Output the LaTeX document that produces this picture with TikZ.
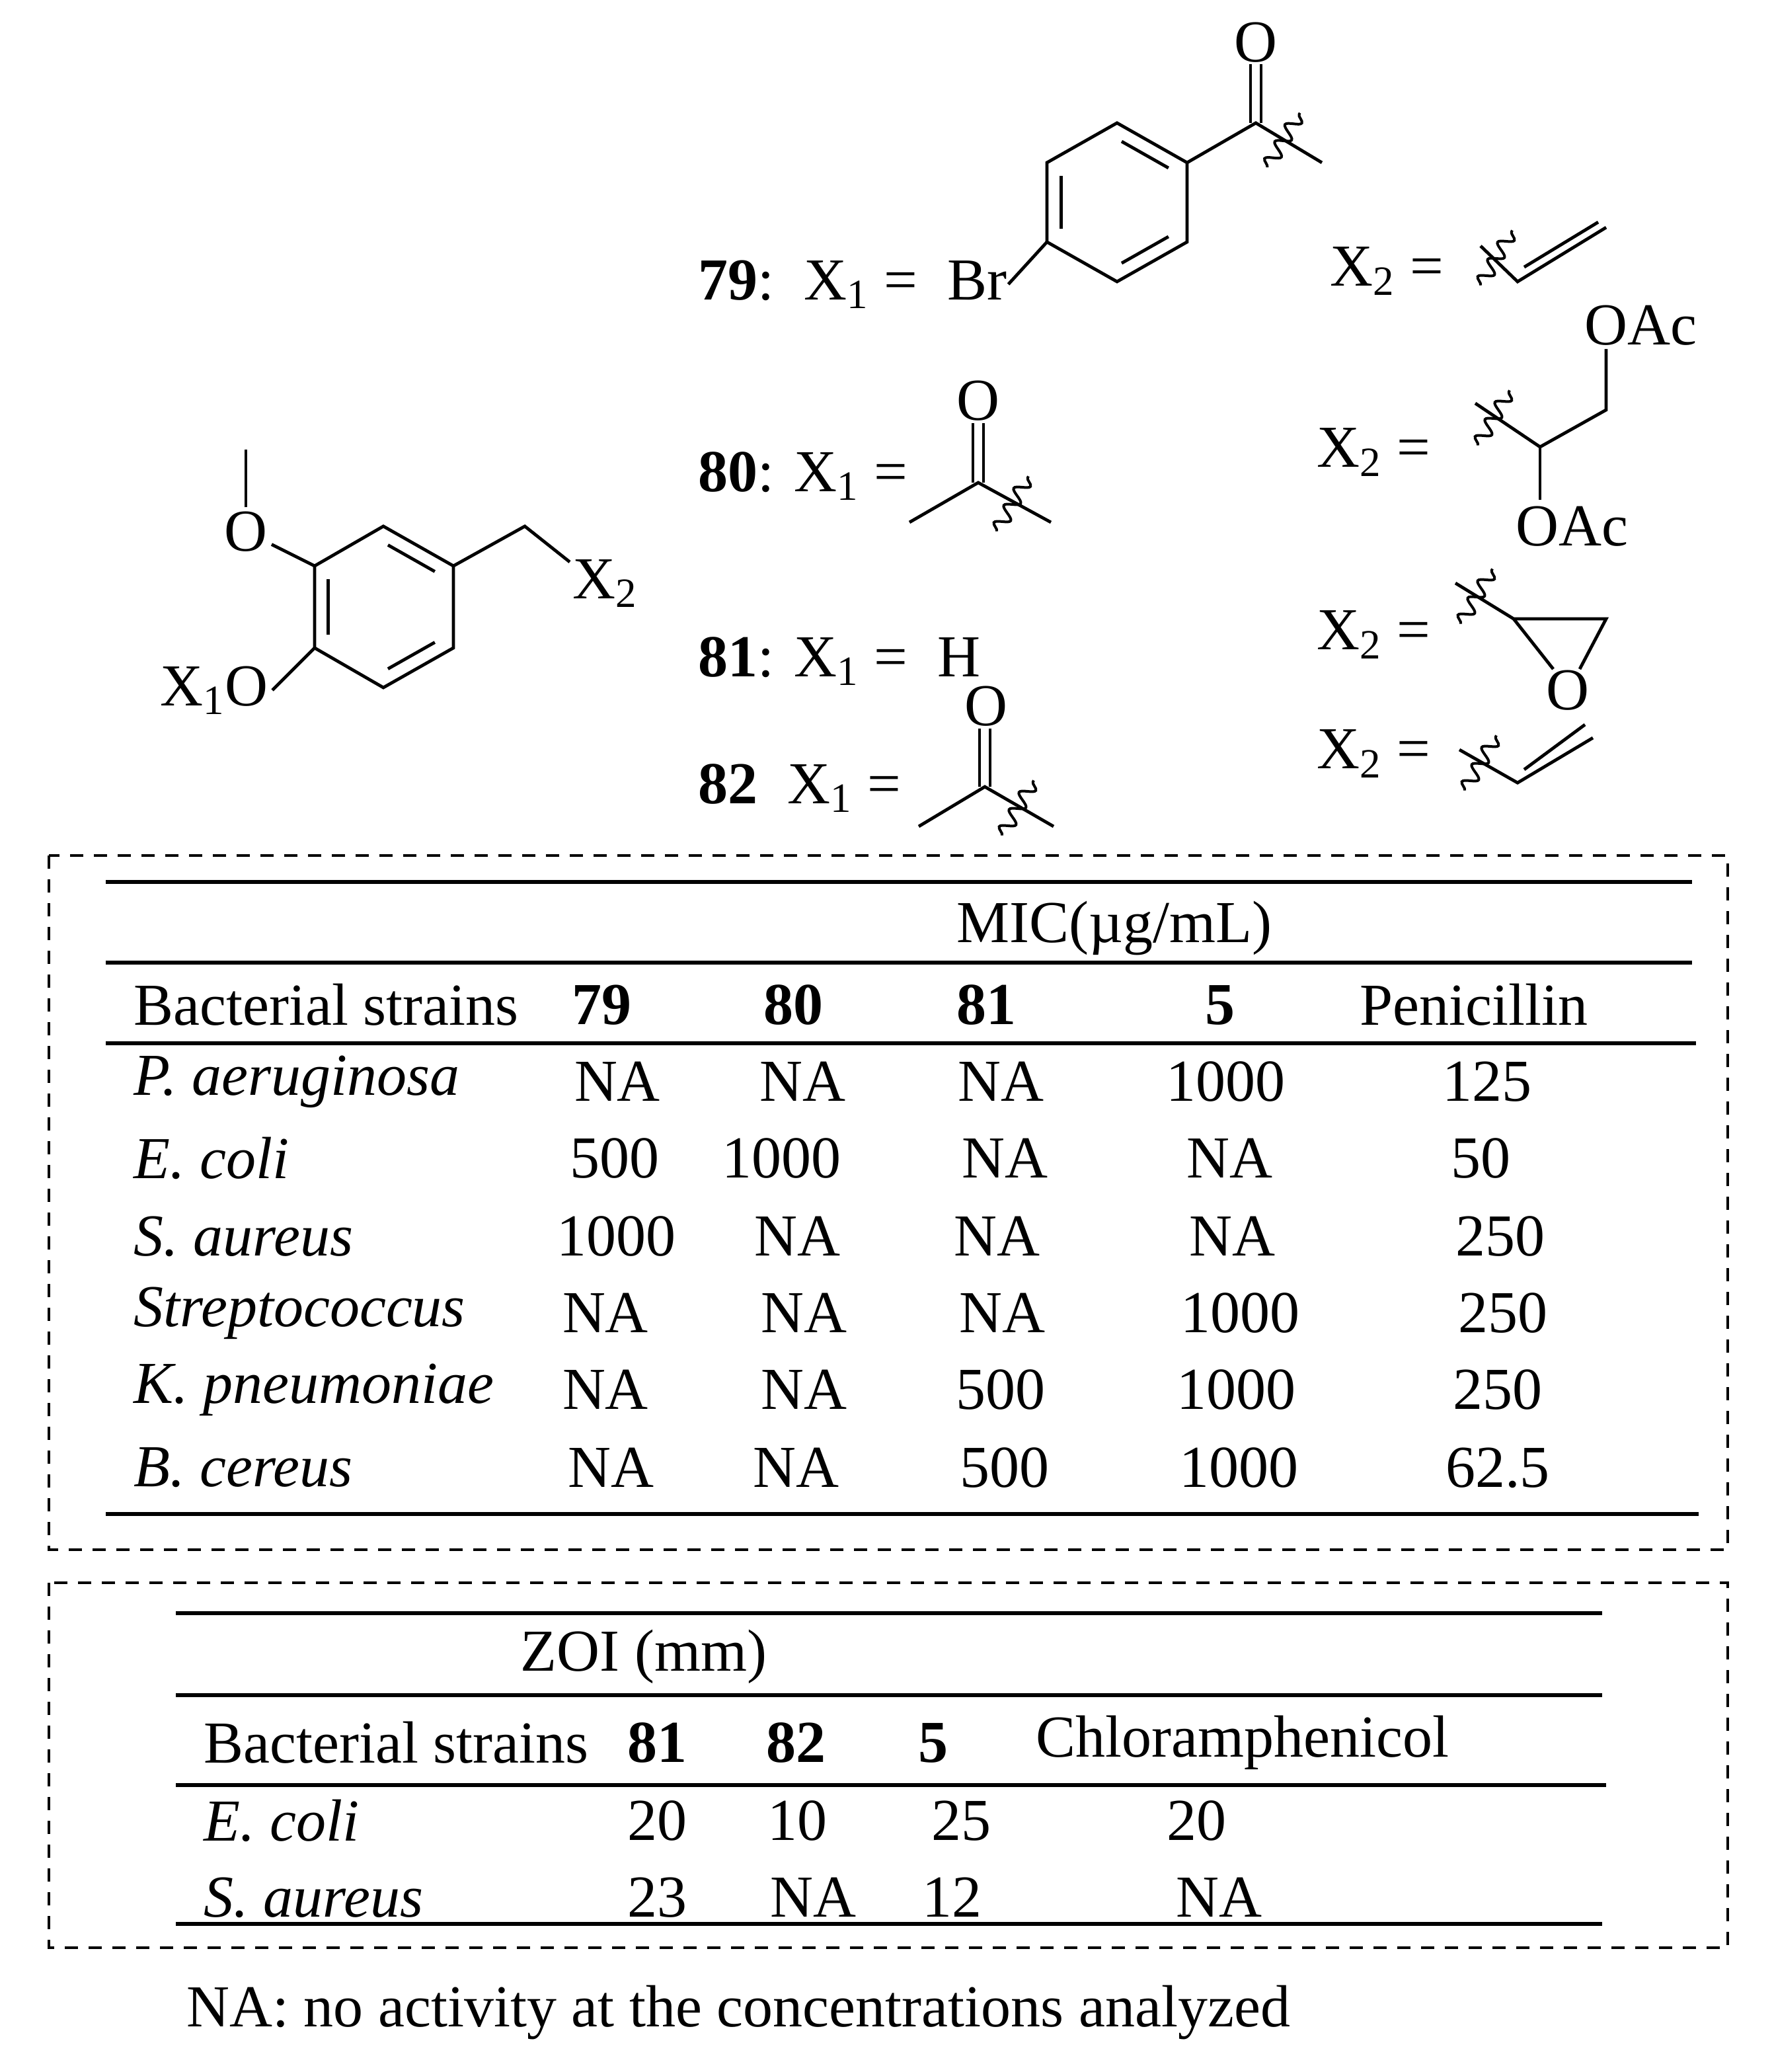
\documentclass[tikz,border=0pt]{standalone}
\usepackage{fontspec}
\setmainfont{Liberation Serif}
\usetikzlibrary{calc,decorations.pathmorphing}
\begin{document}
\begin{tikzpicture}[x=0.5pt,y=-0.5pt,line width=1.2pt,
  txt/.style={font=\fontsize{22.5}{26}\selectfont,inner sep=0pt},
  lt/.style={txt,anchor=west},
  rule/.style={line width=1.3pt},
  box/.style={dashed,line width=1.1pt,dash pattern=on 5pt off 4pt},
  wavy/.pic={\draw[line width=1pt,decorate,decoration={snake,amplitude=2.6pt,segment length=7.5pt}] (-12pt,0)--(12pt,0);}]
\useasboundingbox (0,0) rectangle (1342,1567);
\newcommand\inner[3]{\draw[shorten >=2pt,shorten <=2pt] ($(#1)!0.2!(#3)$) -- ($(#2)!0.2!(#3)$);}
% main ring
\coordinate (m1) at (290,398); \coordinate (m2) at (343,428); \coordinate (m3) at (343,490);
\coordinate (m4) at (290,520); \coordinate (m5) at (238,490); \coordinate (m6) at (238,428);
\coordinate (mc) at (290,459);
\draw (m1)--(m2)--(m3)--(m4)--(m5)--(m6)--cycle;
\inner{m1}{m2}{mc}\inner{m3}{m4}{mc}\inner{m5}{m6}{mc}
\node[txt,inner sep=1pt] (o1) at (186,402) {O};
\draw (m6)--(o1);
\draw (o1)--(186,340);
\node[txt,anchor=east,inner sep=1pt] (x1o) at (206,522) {X\textsubscript{1}O};
\draw (m5)--(x1o.east);
\draw (m2)--(397,398)--(431,425);
\node[txt,anchor=north west] (x2) at (432,422) {X\textsubscript{2}};
% 79
\node[lt] (l79) at (527,215) {\textbf{79}:\ \ X\textsubscript{1} = \ Br};
\coordinate (b1) at (845,93); \coordinate (b2) at (898,123); \coordinate (b3) at (898,183);
\coordinate (b4) at (845,213); \coordinate (b5) at (792,183); \coordinate (b6) at (792,123);
\coordinate (bc) at (845,153);
\draw (b1)--(b2)--(b3)--(b4)--(b5)--(b6)--cycle;
\inner{b1}{b2}{bc}\inner{b3}{b4}{bc}\inner{b5}{b6}{bc}
\draw (b5)--(l79.east);
\node[txt] (o79) at (950,32) {O};
\draw (b2)--(950,93)--(1000,123);
\draw (946,93)--(o79.south-|946,0); \draw (954,93)--(o79.south-|954,0);
\pic[rotate=59] at (971,106) {wavy};
% X2 vinyl 1
\node[lt] (x2a) at (1005,205) {X\textsubscript{2} =};
\pic[rotate=60] at (1132,195) {wavy};
\draw (1120,186)--(1148,213)--(1215,172);
\draw (1153,202)--(1209,168);
% 80
\node[lt] (l80) at (527,360) {\textbf{80}: X\textsubscript{1} =};
\node[txt] (o80) at (740,303) {O};
\draw (688,395)--(740,365)--(795,395);
\draw (736,365)--(736,320); \draw (744,365)--(744,320);
\pic[rotate=60] at (766,381) {wavy};
% X2 diacetoxy
\node[lt] (x2b) at (995,342) {X\textsubscript{2} =};
\pic[rotate=60] at (1130,316) {wavy};
\draw (1116,305)--(1165,338)--(1215,310)--(1215,264);
\draw (1165,338)--(1165,378);
\node[txt] (oac1) at (1241,246) {OAc};
\node[txt] (oac2) at (1189,398) {OAc};
% 81
\node[lt] (l81) at (527,500) {\textbf{81}: X\textsubscript{1} = \ H};
% X2 epoxide
\node[lt] (x2c) at (995,480) {X\textsubscript{2} =};
\pic[rotate=60] at (1117,451) {wavy};
\draw (1101,441)--(1145,468)--(1215,468)--(1195,506);
\draw (1145,468)--(1175,506);
\node[txt] (oep) at (1186,522) {O};
% 82
\node[lt] (l82) at (527,596) {\textbf{82}\ \ X\textsubscript{1} =};
\node[txt] (o82) at (746,534) {O};
\draw (695,625)--(745,595)--(797,625);
\draw (741,595)--(741,551); \draw (749,595)--(749,551);
\pic[rotate=60] at (770,611) {wavy};
% X2 vinyl 2
\node[lt] (x2d) at (995,570) {X\textsubscript{2} =};
\pic[rotate=60] at (1120,577) {wavy};
\draw (1104,567)--(1148,592)--(1205,558);
\draw (1153,582)--(1199,548);
% Table 1
\draw[box] (37,647) rectangle (1307,1172);
\draw[rule] (80,667)--(1280,667);
\draw[rule] (80,728)--(1280,728);
\draw[rule] (80,789)--(1283,789);
\draw[rule] (80,1145)--(1285,1145);
\node[txt] (mic) at (843,702) {MIC(µg/mL)};
\node[lt] (h1) at (100,760) {Bacterial strains};
\node[txt] (h79) at (455,760) {\textbf{79}};
\node[txt] (h80) at (600,760) {\textbf{80}};
\node[txt] (h81) at (746,760) {\textbf{81}};
\node[txt] (h5) at (923,760) {\textbf{5}};
\node[txt] (hp) at (1115,760) {Penicillin};
\foreach \y/\n/\a/\ax/\b/\bx/\c/\cx/\d/\dx/\e/\ex [count=\i] in {
 818/P. aeruginosa/NA/467/NA/607/NA/757/1000/927/125/1125,
 876/E. coli/500/465/1000/591/NA/760/NA/930/50/1120,
 935/S. aureus/1000/466/NA/603/NA/754/NA/932/250/1135,
 993/Streptococcus/NA/458/NA/608/NA/758/1000/938/250/1137,
 1051/K. pneumoniae/NA/458/NA/608/500/757/1000/935/250/1133,
 1110/B. cereus/NA/462/NA/602/500/760/1000/937/62.5/1133}{
 \node[lt] (r\i) at (100,\y) {\textit{\n}};
 \node[txt] (r\i a) at (\ax,\y) {\a};
 \node[txt] (r\i b) at (\bx,\y) {\b};
 \node[txt] (r\i c) at (\cx,\y) {\c};
 \node[txt] (r\i d) at (\dx,\y) {\d};
 \node[txt] (r\i e) at (\ex,\y) {\e};
}
% Table 2
\draw[box] (37,1197) rectangle (1307,1473);
\draw[rule] (133,1220)--(1212,1220);
\draw[rule] (133,1282)--(1212,1282);
\draw[rule] (133,1350)--(1215,1350);
\draw[rule] (133,1455)--(1212,1455);
\node[txt] (zoi) at (487,1253) {ZOI (mm)};
\node[lt] (g1) at (153,1318) {Bacterial strains};
\node[txt] (g81) at (497,1318) {\textbf{81}};
\node[txt] (g82) at (602,1318) {\textbf{82}};
\node[txt] (g5) at (706,1318) {\textbf{5}};
\node[txt] (gc) at (940,1318) {Chloramphenicol};
\node[lt] (s1) at (153,1377) {\textit{E. coli}};
\node[txt] (s1a) at (497,1377) {20};
\node[txt] (s1b) at (603,1377) {10};
\node[txt] (s1c) at (727,1377) {25};
\node[txt] (s1d) at (905,1377) {20};
\node[lt] (s2) at (153,1435) {\textit{S. aureus}};
\node[txt] (s2a) at (497,1435) {23};
\node[txt] (s2b) at (615,1435) {NA};
\node[txt] (s2c) at (720,1435) {12};
\node[txt] (s2d) at (922,1435) {NA};
\node[lt] (foot) at (140,1522) {NA: no activity at the concentrations analyzed};
\end{tikzpicture}
\end{document}
